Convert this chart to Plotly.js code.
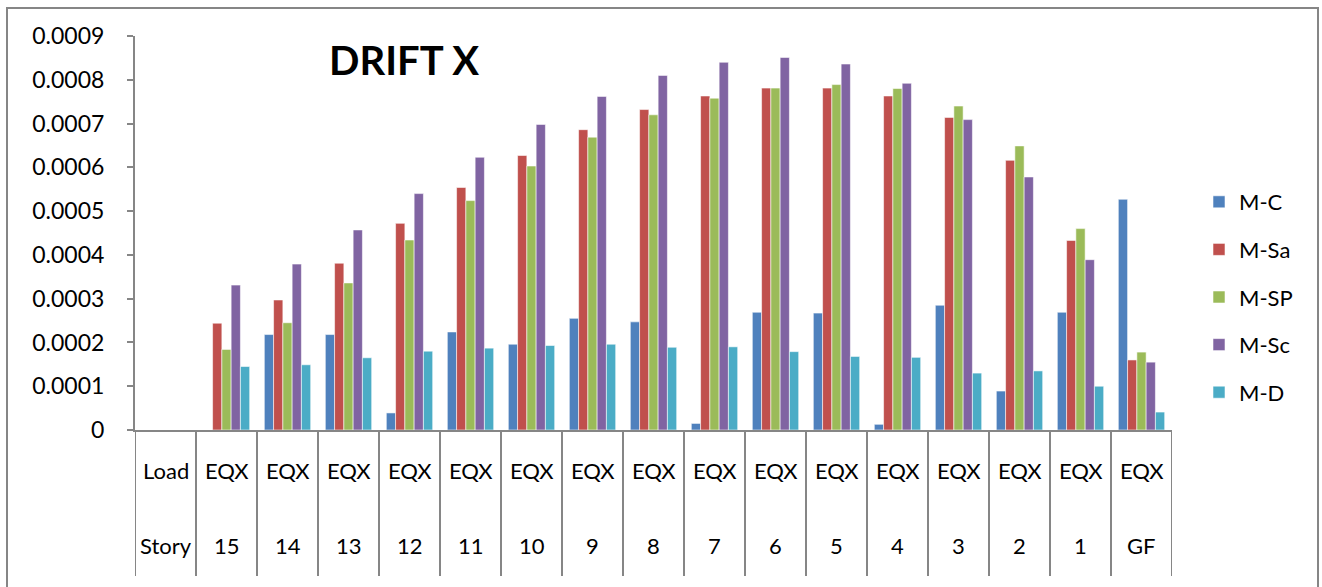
<!DOCTYPE html>
<html>
<head>
<meta charset="utf-8">
<script src="https://cdn.plot.ly/plotly-3.0.1.min.js"></script>
<style>
html,body{margin:0;padding:0;background:#fff;}
#chart{width:1322px;height:587px;}
</style>
</head>
<body>
<div id="chart"></div>
<script>
// ---- data ----
const loadLabels = ['Load','EQX','EQX','EQX','EQX','EQX','EQX','EQX','EQX','EQX','EQX','EQX','EQX','EQX','EQX','EQX','EQX'];
const storyLabels = ['Story','15','14','13','12','11','10','9','8','7','6','5','4','3','2','1','GF'];
const seriesNames = ['M-C','M-Sa','M-SP','M-Sc','M-D'];
const mC  = [null, 0,        0.000218, 0.000218, 0.000039, 0.000224, 0.000196, 0.000255, 0.000247, 0.000015, 0.000269, 0.000267, 0.000013, 0.000285, 0.000089, 0.000269, 0.000527];
const mSa = [null, 0.000244, 0.000297, 0.000381, 0.000472, 0.000554, 0.000627, 0.000686, 0.000732, 0.000763, 0.000781, 0.000781, 0.000763, 0.000714, 0.000616, 0.000433, 0.000160];
const mSP = [null, 0.000184, 0.000245, 0.000336, 0.000434, 0.000524, 0.000603, 0.000669, 0.000720, 0.000758, 0.000781, 0.000789, 0.000780, 0.000740, 0.000649, 0.000460, 0.000178];
const mSc = [null, 0.000331, 0.000379, 0.000457, 0.000540, 0.000623, 0.000698, 0.000762, 0.000810, 0.000840, 0.000851, 0.000836, 0.000792, 0.000709, 0.000578, 0.000389, 0.000155];
const mD  = [null, 0.000145, 0.000149, 0.000165, 0.000180, 0.000187, 0.000193, 0.000196, 0.000189, 0.000190, 0.000179, 0.000168, 0.000166, 0.000130, 0.000135, 0.000100, 0.000041];
const yTickVals = [0,0.0001,0.0002,0.0003,0.0004,0.0005,0.0006,0.0007,0.0008,0.0009];
const yTickText = ['0','0.0001','0.0002','0.0003','0.0004','0.0005','0.0006','0.0007','0.0008','0.0009'];
const titleText = 'DRIFT X';

// ---- styling ----
const colors = ['#4F81BD','#C0504D','#9BBB59','#8064A2','#4BACC6'];
const FONT = 'Lato, "Open Sans", sans-serif';
const axisColor = '#868686';
const L = 135, R = 1172, T = 36, B = 430, W = 1322, H = 587;
const px = v => (v - L) / (R - L);
const py = v => (B - v) / (B - T);

const cats = storyLabels.map((s, i) => i);
const allSeries = [mC, mSa, mSP, mSc, mD];

const traces = allSeries.map((vals, k) => ({
  type: 'bar',
  name: seriesNames[k],
  x: cats,
  y: vals,
  legendgroup: 'g' + k,
  marker: {color: colors[k], line: {color: 'rgba(255,255,255,0.55)', width: 1}},
  hoverinfo: 'x+y+name'
}));

const shapes = [];
const annotations = [];
// category dividers
for (let i = 0; i <= cats.length; i++) {
  shapes.push({type: 'line', xref: 'x', yref: 'paper', x0: i - 0.5, x1: i - 0.5, y0: 0, y1: py(576),
    line: {color: axisColor, width: 2}});
}
// category labels
cats.forEach((c, i) => {
  annotations.push({xref: 'x', yref: 'paper', x: c, y: py(471), text: loadLabels[i], showarrow: false,
    font: {family: FONT, size: 22, color: '#000'}, xanchor: 'center', yanchor: 'middle'});
  annotations.push({xref: 'x', yref: 'paper', x: c, y: py(545), text: storyLabels[i], showarrow: false,
    font: {family: FONT, size: 22, color: '#000'}, xanchor: 'center', yanchor: 'middle'});
});
// title
annotations.push({xref: 'paper', yref: 'paper', x: px(404), y: py(60), text: '<b>' + titleText + '</b>', showarrow: false,
  font: {family: FONT, size: 40, color: '#000'}, xanchor: 'center', yanchor: 'middle'});
// outer frame
shapes.push({type: 'rect', xref: 'paper', yref: 'paper', x0: px(7), x1: px(1318), y0: py(600), y1: py(8),
  line: {color: axisColor, width: 2}, layer: 'below'});

const layout = {
  width: W, height: H,
  margin: {l: L, r: W - R, t: T, b: H - B, pad: 0},
  paper_bgcolor: '#fff', plot_bgcolor: '#fff',
  barmode: 'group', bargap: 0.24, bargroupgap: 0,
  showlegend: true,
  legend: {x: px(1199), y: py(181), xanchor: 'left', yanchor: 'top', font: {family: FONT, size: 22, color: '#000'},
    tracegroupgap: 16, bgcolor: 'rgba(0,0,0,0)'},
  xaxis: {type: 'linear', range: [-0.5, cats.length - 0.5], showticklabels: false, ticks: '', showgrid: false,
    zeroline: false, showline: true, linecolor: axisColor, linewidth: 2, fixedrange: true},
  yaxis: {range: [0, 0.0009], tickvals: yTickVals, ticktext: yTickText, ticks: 'outside', ticklen: 6,
    tickcolor: axisColor, tickwidth: 2, showgrid: false, zeroline: false, showline: true, linecolor: axisColor,
    linewidth: 2, tickfont: {family: FONT, size: 23, color: '#000'}, ticklabelstandoff: 18, fixedrange: true},
  shapes: shapes,
  annotations: annotations
};

Plotly.newPlot('chart', traces, layout, {displayModeBar: false, staticPlot: true});
</script>
</body>
</html>
